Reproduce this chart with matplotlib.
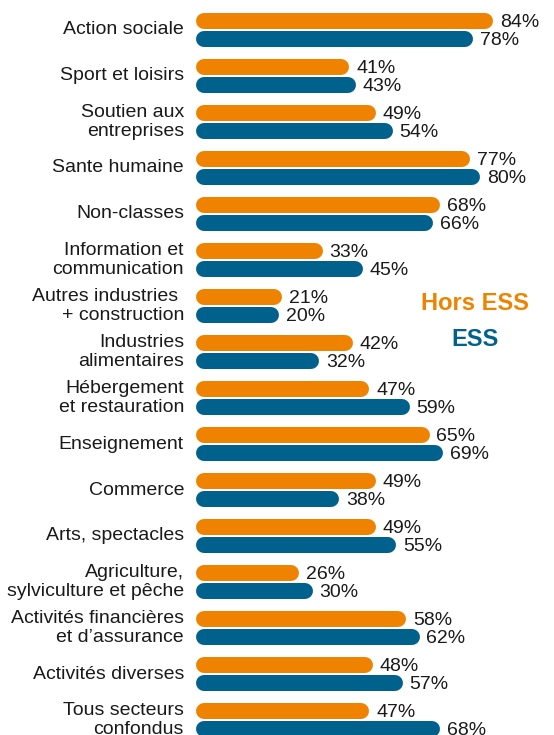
import matplotlib.pyplot as plt

# data (top row first)
categories = [
    "Action sociale",
    "Sport et loisirs",
    "Soutien aux\nentreprises",
    "Sante humaine",
    "Non-classes",
    "Information et\ncommunication",
    "Autres industries \n+ construction",
    "Industries\nalimentaires",
    "Hébergement\net restauration",
    "Enseignement",
    "Commerce",
    "Arts, spectacles",
    "Agriculture,\nsylviculture et pêche",
    "Activités financières\net d’assurance",
    "Activités diverses",
    "Tous secteurs\nconfondus",
]
hors_ess = [84, 41, 49, 77, 68, 33, 21, 42, 47, 65, 49, 49, 26, 58, 48, 47]
ess = [78, 43, 54, 80, 66, 45, 20, 32, 59, 69, 38, 55, 30, 62, 57, 68]

orange = "#EF8300"
blue = "#00628C"
W, H = 554, 735

plt.rcParams['font.family'] = ['Liberation Sans', 'DejaVu Sans']

fig = plt.figure(figsize=(W / 100, H / 100), dpi=100)
# axes starts where the zero of the bars is
x0 = 204
px_per_unit = 3.35
ax = fig.add_axes([x0 / W, 0, (W - x0) / W, 1])
ax.set_xlim(0, (W - x0) / px_per_unit)
row = 46  # pixels between rows
ax.set_ylim(len(categories) - 1 + 15 / row, -30 / row)
ax.axis('off')

off = 9 / row
bar_lw = 16 * 72 / 100  # 16 px thick bars
cap = 8 / px_per_unit   # round cap length in data units
ys = list(range(len(categories)))

ax.hlines([y - off for y in ys], 0, hors_ess, colors=orange, linewidth=bar_lw,
          capstyle='round', clip_on=False)
ax.hlines([y + off for y in ys], 0, ess, colors=blue, linewidth=bar_lw,
          capstyle='round', clip_on=False)

for y, cat, a, b in zip(ys, categories, hors_ess, ess):
    ax.text(a + cap + 2, y - off + 0.03, f"{a}%", ha='left', va='center',
            fontsize=14, color='#1a1a1a')
    ax.text(b + cap + 2, y + off + 0.03, f"{b}%", ha='left', va='center',
            fontsize=14, color='#1a1a1a')
    ax.text(-20 / px_per_unit, y, cat, ha='right', va='center', multialignment='right',
            fontsize=14, color='#1a1a1a', linespacing=1.08, clip_on=False)

# legend as coloured words
fig.text(475 / W, 1 - 310 / H, "Hors ESS", ha='center', va='baseline',
         fontsize=17, fontweight='bold', color=orange)
fig.text(475 / W, 1 - 346 / H, "ESS", ha='center', va='baseline',
         fontsize=17, fontweight='bold', color=blue)

fig.savefig("out.png", dpi=100)
